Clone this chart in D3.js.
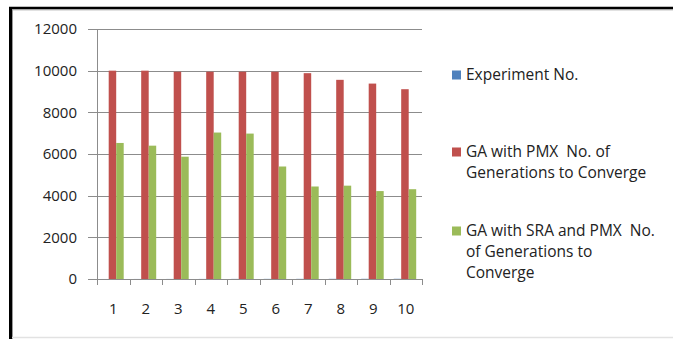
<!DOCTYPE html>
<html>
<head>
<meta charset="utf-8">
<script src="https://cdn.jsdelivr.net/npm/d3@7"></script>
<style>
  html, body { margin: 0; padding: 0; background: #fff; }
  svg { display: block; font-family: "Open Sans", "Liberation Sans", Arial, sans-serif; }
  text { white-space: pre; }
</style>
</head>
<body>
<svg id="chart" width="673" height="339"></svg>
<script>
// Experiment numbers (categories on the x axis)
const experiments = ["1", "2", "3", "4", "5", "6", "7", "8", "9", "10"];

// Series names and their legend lines
const seriesNames = [
  "Experiment No.",
  "GA with PMX  No. of Generations to Converge",
  "GA with SRA and PMX  No. of Generations to Converge"
];
const legendLines = [
  ["Experiment No."],
  ["GA with PMX  No. of", "Generations to Converge"],
  ["GA with SRA and PMX  No.", "of Generations to", "Converge"]
];
const seriesColors = ["#4F81BD", "#C0504D", "#9BBB59"];

// Values per series
const experimentNo = [1, 2, 3, 4, 5, 6, 7, 8, 9, 10];
const gaPmx = [10000, 10000, 9950, 9950, 9950, 9950, 9880, 9560, 9380, 9110];
const gaSraPmx = [6530, 6400, 5870, 7030, 6980, 5400, 4440, 4480, 4220, 4310];

// Y axis ticks
const yTicks = [0, 2000, 4000, 6000, 8000, 10000, 12000];

const seriesValues = [experimentNo, gaPmx, gaSraPmx];

const svg = d3.select("#chart");

// Outer frame
svg.append("rect").attr("x", 0).attr("y", 0).attr("width", 673).attr("height", 339).attr("fill", "#fff");
svg.append("line").attr("x1", 9).attr("x2", 673).attr("y1", 8).attr("y2", 8)
  .attr("stroke", "#000").attr("stroke-width", 2.5);
svg.append("line").attr("x1", 9).attr("x2", 673).attr("y1", 9.8).attr("y2", 9.8)
  .attr("stroke", "#9a9a9a").attr("stroke-width", 1);
svg.append("line").attr("x1", 10.5).attr("x2", 10.5).attr("y1", 7).attr("y2", 339)
  .attr("stroke", "#000").attr("stroke-width", 3);
svg.append("line").attr("x1", 12.5).attr("x2", 12.5).attr("y1", 9).attr("y2", 339)
  .attr("stroke", "#9a9a9a").attr("stroke-width", 1);
svg.append("line").attr("x1", 12).attr("x2", 673).attr("y1", 337.5).attr("y2", 337.5)
  .attr("stroke", "#e2e2e2").attr("stroke-width", 1.5);

const plot = { left: 97, right: 422, top: 29, bottom: 279 };

const x = d3.scaleBand().domain(experiments).range([plot.left, plot.right]);
const xInner = d3.scaleBand().domain(d3.range(seriesNames.length))
  .range([0, x.bandwidth()]).paddingInner(0).paddingOuter(0.667).align(0.42);
const y = d3.scaleLinear().domain([0, 12000]).range([plot.bottom, plot.top]);

// Horizontal gridlines with left tick stubs
svg.append("g").selectAll("line").data(yTicks).join("line")
  .attr("x1", plot.left - 9).attr("x2", plot.right)
  .attr("y1", d => Math.round(y(d)) + 0.5).attr("y2", d => Math.round(y(d)) + 0.5)
  .attr("stroke", "#8c8c8c").attr("stroke-width", 1);

// Y axis line
svg.append("line").attr("x1", plot.left + 0.5).attr("x2", plot.left + 0.5)
  .attr("y1", plot.top).attr("y2", plot.bottom)
  .attr("stroke", "#8c8c8c");

// Y tick labels
svg.append("g").selectAll("text").data(yTicks).join("text")
  .attr("x", 77).attr("y", d => y(d)).attr("dy", "0.36em")
  .attr("text-anchor", "end").attr("font-size", 15).attr("fill", "#222")
  .text(d => d);

// Bars
const groups = svg.append("g").selectAll("g").data(experiments).join("g")
  .attr("transform", d => `translate(${x(d)},0)`);
groups.selectAll("rect")
  .data((d, i) => seriesValues.map((vals, s) => ({ s, v: vals[i] })))
  .join("rect")
  .attr("x", d => xInner(d.s))
  .attr("width", xInner.bandwidth())
  .attr("y", d => y(d.v))
  .attr("height", d => y(0) - y(d.v))
  .attr("fill", d => seriesColors[d.s]);

// X axis line and tick marks
svg.append("line").attr("x1", plot.left).attr("x2", plot.right)
  .attr("y1", plot.bottom + 0.5).attr("y2", plot.bottom + 0.5).attr("stroke", "#8c8c8c");
const tickPos = experiments.map(d => x(d)).concat([plot.right]);
svg.append("g").selectAll("line").data(tickPos).join("line")
  .attr("x1", d => Math.round(d) + 0.5).attr("x2", d => Math.round(d) + 0.5)
  .attr("y1", plot.bottom).attr("y2", plot.bottom + 6)
  .attr("stroke", "#8c8c8c");

// X tick labels
svg.append("g").selectAll("text").data(experiments).join("text")
  .attr("x", d => x(d) + x.bandwidth() / 2).attr("y", 314)
  .attr("text-anchor", "middle").attr("font-size", 15).attr("fill", "#222")
  .text(d => d);

// Legend
const legendTop = [80, 157, 236];
const legend = svg.append("g").selectAll("g").data(seriesNames).join("g");
legend.append("rect")
  .attr("x", 452).attr("y", (d, i) => legendTop[i] - 9.5)
  .attr("width", 9).attr("height", 9)
  .attr("fill", (d, i) => seriesColors[i]);
legend.each(function (d, i) {
  d3.select(this).selectAll("text").data(legendLines[i]).join("text")
    .attr("x", 466).attr("y", (t, j) => legendTop[i] + j * 21)
    .attr("font-size", 15.5).attr("fill", "#222")
    .text(t => t);
});
</script>
</body>
</html>
